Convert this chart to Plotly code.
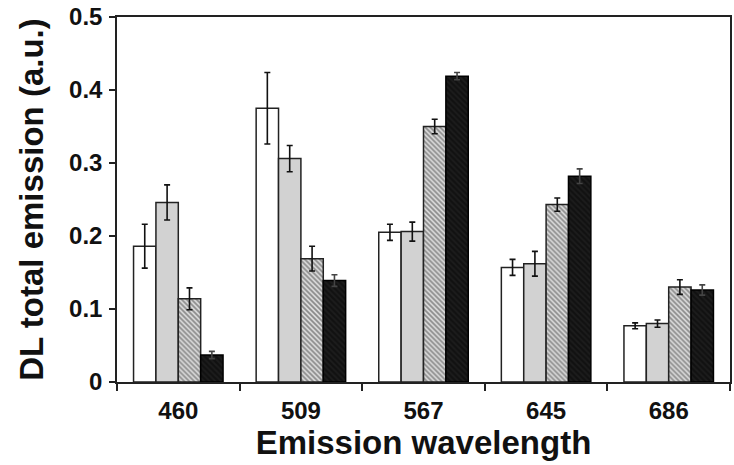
import plotly.graph_objects as go

categories = ["460", "509", "567", "645", "686"]
white_vals = [0.186, 0.375, 0.205, 0.157, 0.077]
white_err = [0.030, 0.049, 0.011, 0.011, 0.004]
gray_vals = [0.246, 0.306, 0.206, 0.162, 0.080]
gray_err = [0.024, 0.018, 0.013, 0.017, 0.005]
hatch_vals = [0.114, 0.169, 0.350, 0.243, 0.130]
hatch_err = [0.015, 0.017, 0.010, 0.009, 0.010]
black_vals = [0.037, 0.139, 0.419, 0.282, 0.126]
black_err = [0.005, 0.008, 0.005, 0.010, 0.007]
y_ticks = [0, 0.1, 0.2, 0.3, 0.4, 0.5]
y_tick_text = ["0", "0.1", "0.2", "0.3", "0.4", "0.5"]

FONT = "Liberation Sans, Arial, sans-serif"

def err(arr, color="#111111"):
    return dict(type="data", array=arr, visible=True, color=color, thickness=1.6, width=3)

fig = go.Figure()
fig.add_trace(go.Bar(
    x=categories, y=white_vals, error_y=err(white_err),
    marker=dict(color="white", line=dict(color="#222222", width=1.5)),
    name="a"))
fig.add_trace(go.Bar(
    x=categories, y=gray_vals, error_y=err(gray_err),
    marker=dict(color="#d2d2d2", line=dict(color="#222222", width=1.5)),
    name="b"))
fig.add_trace(go.Bar(
    x=categories, y=hatch_vals, error_y=err(hatch_err),
    marker=dict(color="#cccccc", line=dict(color="#222222", width=1.5),
                pattern=dict(shape="\\", fgcolor="#3a3a3a", bgcolor="#dcdcdc",
                             size=3.5, solidity=0.5, fillmode="overlay")),
    name="c"))
fig.add_trace(go.Bar(
    x=categories, y=black_vals, error_y=err(black_err, "#444444"),
    marker=dict(color="#111111", line=dict(color="#000000", width=1.5),
                pattern=dict(shape="\\", fgcolor="#2a2a2a", bgcolor="#111111",
                             size=4, solidity=0.4, fillmode="overlay")),
    name="d"))

fig.update_layout(
    width=734, height=465,
    margin=dict(l=117, r=2, t=17, b=83),
    paper_bgcolor="white", plot_bgcolor="white",
    barmode="group", bargap=0.27, bargroupgap=0,
    showlegend=False,
    font=dict(family=FONT, color="#111111"),
)
fig.update_xaxes(
    type="category", tickson="boundaries",
    showline=True, linecolor="#222222", linewidth=1.5, mirror=True,
    ticks="outside", ticklen=7, tickwidth=1.5, tickcolor="#222222",
    showgrid=False, ticklabelstandoff=6,
    tickfont=dict(family=FONT, size=24, color="#111111", weight="bold"),
    title=dict(text="<b>Emission wavelength</b>", font=dict(family=FONT, size=33, color="#111111"),
               standoff=6),
)
fig.update_yaxes(
    range=[0, 0.5], tickvals=y_ticks, ticktext=y_tick_text,
    showline=True, linecolor="#222222", linewidth=1.5, mirror=True,
    ticks="outside", ticklen=6, tickwidth=1.5, tickcolor="#222222",
    showgrid=False, zeroline=False, ticklabelstandoff=2,
    tickfont=dict(family=FONT, size=24, color="#111111", weight="bold"),
    title=dict(text="<b>DL total emission (a.u.)</b>", font=dict(family=FONT, size=33, color="#111111"),
               standoff=16),
)

fig.write_html("out.html")
